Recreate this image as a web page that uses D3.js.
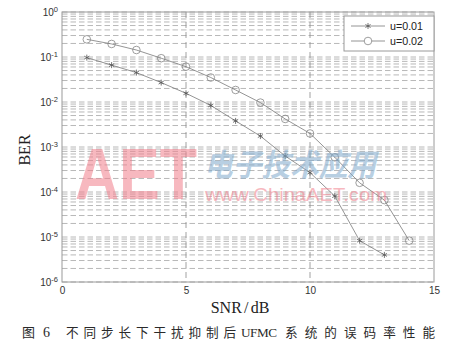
<!DOCTYPE html>
<html>
<head>
<meta charset="utf-8">
<script src="https://cdn.jsdelivr.net/npm/d3@7"></script>
<style>
  body { margin: 0; background: #fff; }
  svg { display: block; }
</style>
</head>
<body>
<script>
// data
var snr1 = [1, 2, 3, 4, 5, 6, 7, 8, 9, 10, 11, 12, 13];
var ber1 = [0.097, 0.066, 0.045, 0.027, 0.0156, 0.0084, 0.0038, 0.00175, 6.3e-4, 2.7e-4, 8.1e-5, 8.3e-6, 4.0e-6];
var snr2 = [1, 2, 3, 4, 5, 6, 7, 8, 9, 10, 11, 12, 13, 14];
var ber2 = [0.247, 0.195, 0.143, 0.094, 0.061, 0.035, 0.0185, 0.0097, 0.0042, 0.0020, 5.9e-4, 1.6e-4, 6.6e-5, 8.3e-6];
var seriesNames = ["u=0.01", "u=0.02"];
var xTicks = [0, 5, 10, 15];
var yExps = [0, -1, -2, -3, -4, -5, -6];

var W = 457, H = 348;
var pLeft = 62, pRight = 434, pTop = 12, pBottom = 282;

var svg = d3.select("body").append("svg")
    .attr("width", W)
    .attr("height", H);

var x = d3.scaleLinear().domain([0, 15]).range([pLeft, pRight]);
var y = d3.scaleLog().domain([1e-6, 1]).range([pBottom, pTop]);

// horizontal grid: every 1..9 x 10^k
var gridVals = [];
for (var k = -6; k < 0; k++) {
    for (var m = 1; m <= 9; m++) gridVals.push(m * Math.pow(10, k));
}
gridVals.push(1);

svg.append("g").selectAll("line")
    .data(gridVals)
    .enter().append("line")
    .attr("x1", pLeft).attr("x2", pRight)
    .attr("y1", function(d) { return y(d); })
    .attr("y2", function(d) { return y(d); })
    .attr("stroke", "#b8b8b8")
    .attr("stroke-width", 1)
    .attr("stroke-dasharray", "5.5,3");

// vertical grid at major x ticks
svg.append("g").selectAll("line")
    .data([5, 10])
    .enter().append("line")
    .attr("x1", function(d) { return x(d); })
    .attr("x2", function(d) { return x(d); })
    .attr("y1", pTop).attr("y2", pBottom)
    .attr("stroke", "#8a8a8a")
    .attr("stroke-width", 0.8)
    .attr("stroke-dasharray", "6,4");

// frame
svg.append("rect")
    .attr("x", pLeft).attr("y", pTop)
    .attr("width", pRight - pLeft).attr("height", pBottom - pTop)
    .attr("fill", "none")
    .attr("stroke", "#9a9a9a")
    .attr("stroke-width", 1);

// x axis
var xAxis = d3.axisBottom(x).tickValues(xTicks).tickSize(0).tickPadding(5);
var gx = svg.append("g")
    .attr("transform", "translate(0," + pBottom + ")")
    .call(xAxis);
gx.select(".domain").remove();
gx.selectAll("text")
    .attr("font-family", "Liberation Sans, Arial, sans-serif")
    .attr("font-size", 10)
    .attr("fill", "#333");

// y axis with 10^n labels
var yAxis = d3.axisLeft(y)
    .tickValues(yExps.map(function(e) { return Math.pow(10, e); }))
    .tickSize(0)
    .tickFormat("");
var gy = svg.append("g")
    .attr("transform", "translate(" + pLeft + ",0)")
    .call(yAxis);
gy.select(".domain").remove();
gy.selectAll(".tick").each(function(d) {
    var t = d3.select(this).append("text")
        .attr("x", -4)
        .attr("dy", "0.35em")
        .attr("text-anchor", "end")
        .attr("font-family", "Liberation Sans, Arial, sans-serif")
        .attr("font-size", 10)
        .attr("fill", "#333");
    t.append("tspan").text("10");
    t.append("tspan")
        .attr("dy", "-0.6em")
        .attr("font-size", 7.5)
        .text(Math.round(Math.log10(d)));
});

// axis titles
svg.append("text")
    .attr("x", 240)
    .attr("y", 313)
    .attr("text-anchor", "middle")
    .attr("font-family", "Liberation Serif, Times New Roman, serif")
    .attr("font-size", 16)
    .attr("word-spacing", -1.8)
    .attr("fill", "#222")
    .text("SNR / dB");

svg.append("text")
    .attr("transform", "translate(29.5," + 150 + ") rotate(-90)")
    .attr("text-anchor", "middle")
    .attr("font-family", "Liberation Serif, Times New Roman, serif")
    .attr("font-size", 16)
    .attr("fill", "#222")
    .text("BER");

// curves
var line = d3.line()
    .x(function(d) { return x(d[0]); })
    .y(function(d) { return y(d[1]); });

var pts1 = d3.zip(snr1, ber1);
var pts2 = d3.zip(snr2, ber2);

[pts1, pts2].forEach(function(p) {
    svg.append("path")
        .datum(p)
        .attr("d", line)
        .attr("fill", "none")
        .attr("stroke", "#7a7a7a")
        .attr("stroke-width", 0.8);
});

function star(g, cx, cy) {
    var r = 3;
    var s = g.append("g").attr("stroke", "#555").attr("stroke-width", 0.8);
    [0, 60, 120].forEach(function(a) {
        var rad = a * Math.PI / 180;
        s.append("line")
            .attr("x1", cx - r * Math.sin(rad)).attr("y1", cy - r * Math.cos(rad))
            .attr("x2", cx + r * Math.sin(rad)).attr("y2", cy + r * Math.cos(rad));
    });
}

var m1 = svg.append("g");
pts1.forEach(function(d) { star(m1, x(d[0]), y(d[1])); });

svg.append("g").selectAll("circle")
    .data(pts2)
    .enter().append("circle")
    .attr("cx", function(d) { return x(d[0]); })
    .attr("cy", function(d) { return y(d[1]); })
    .attr("r", 3.8)
    .attr("fill", "none")
    .attr("stroke", "#858585")
    .attr("stroke-width", 0.8);

// legend
var lg = svg.append("g");
lg.append("rect")
    .attr("x", 344).attr("y", 16)
    .attr("width", 90).attr("height", 35)
    .attr("fill", "#fff")
    .attr("stroke", "#9a9a9a")
    .attr("stroke-width", 1);
seriesNames.forEach(function(name, i) {
    var ly = 26 + i * 15;
    lg.append("line")
        .attr("x1", 351).attr("x2", 385)
        .attr("y1", ly).attr("y2", ly)
        .attr("stroke", "#7a7a7a")
        .attr("stroke-width", 0.8);
    if (i === 0) {
        star(lg, 368, ly);
    } else {
        lg.append("circle")
            .attr("cx", 368).attr("cy", ly).attr("r", 3.8)
            .attr("fill", "#fff")
            .attr("stroke", "#858585")
            .attr("stroke-width", 0.8);
    }
    lg.append("text")
        .attr("x", 390).attr("y", ly)
        .attr("dy", "0.36em")
        .attr("font-family", "Liberation Sans, Arial, sans-serif")
        .attr("font-size", 10.7)
        .attr("fill", "#222")
        .text(name);
});

// watermark
var wm = svg.append("g").attr("opacity", 0.55);
wm.append("text")
    .attr("x", 75).attr("y", 199)
    .attr("font-family", "Liberation Sans, Arial, sans-serif")
    .attr("font-weight", "bold")
    .attr("font-size", 72)
    .attr("textLength", 122)
    .attr("lengthAdjust", "spacingAndGlyphs")
    .attr("fill", "#f27f8c")
    .text("AET");
wm.append("text")
    .attr("x", 204).attr("y", 176)
    .attr("font-family", "Noto Sans CJK SC, sans-serif")
    .attr("font-weight", "bold")
    .attr("font-size", 31)
    .attr("font-style", "italic")
    .attr("textLength", 172)
    .attr("lengthAdjust", "spacingAndGlyphs")
    .attr("fill", "#7fa9cc")
    .text("电子技术应用");
wm.append("text")
    .attr("x", 205).attr("y", 201)
    .attr("font-family", "Liberation Sans, Arial, sans-serif")
    .attr("font-size", 19)
    .attr("textLength", 182)
    .attr("lengthAdjust", "spacingAndGlyphs")
    .attr("fill", "#f27f8c")
    .text("www.ChinaAET.com");

// caption, in segments so the spacing follows the original
var capY = 337;
var capParts = [
    { t: "图", x0: 22, x1: 35, f: "Noto Sans CJK SC, sans-serif", s: 13 },
    { t: "6", x0: 43, x1: 49, f: "Liberation Serif, serif", s: 14 },
    { t: "不同步长下干扰抑制后", x0: 66, x1: 236, f: "Noto Sans CJK SC, sans-serif", s: 12.6 },
    { t: "UFMC", x0: 241, x1: 277, f: "Liberation Serif, serif", s: 13.2 },
    { t: "系统的误码率性能", x0: 285, x1: 435, f: "Noto Sans CJK SC, sans-serif", s: 12.6 }
];
svg.append("g").selectAll("text")
    .data(capParts)
    .enter().append("text")
    .attr("x", function(d) { return d.x0; })
    .attr("y", capY)
    .attr("font-family", function(d) { return d.f; })
    .attr("font-size", function(d) { return d.s; })
    .attr("textLength", function(d) { return d.x1 - d.x0; })
    .attr("lengthAdjust", "spacing")
    .attr("fill", "#2a2a2a")
    .text(function(d) { return d.t; });
</script>
</body>
</html>
